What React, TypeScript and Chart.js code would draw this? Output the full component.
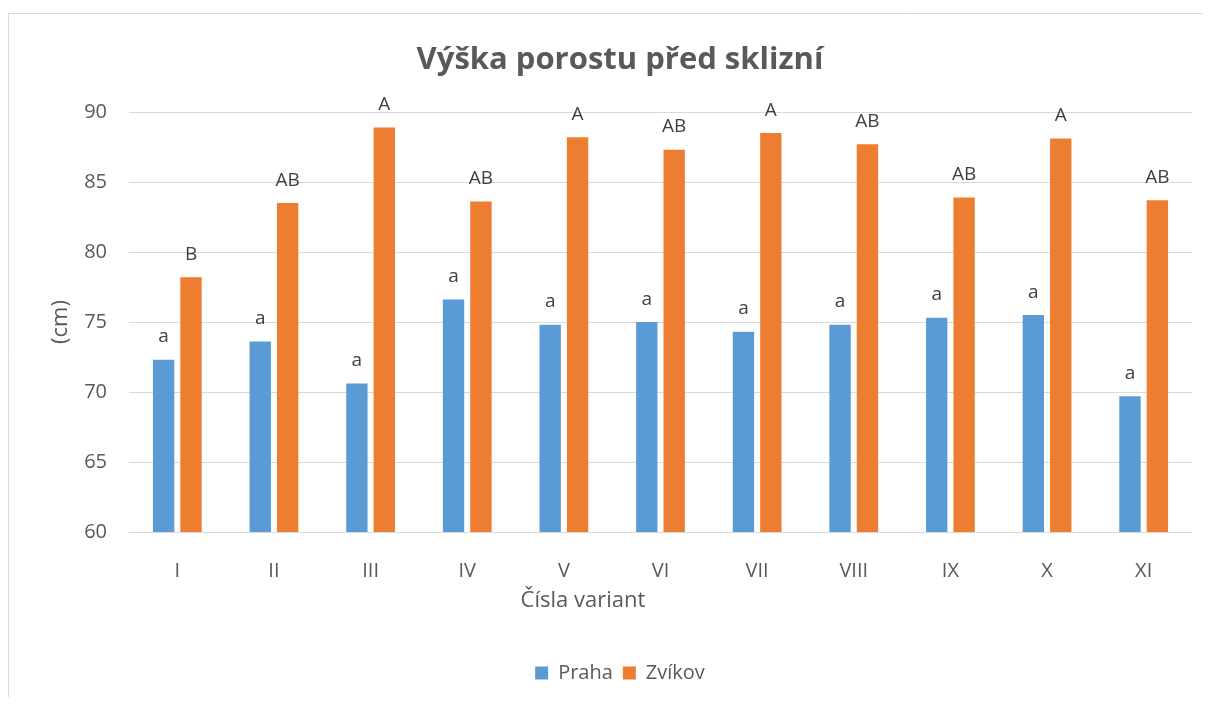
import React, { useEffect, useRef } from "react";
import { Chart, registerables } from "chart.js";

Chart.register(...registerables);

const chartTitle = "Výška porostu před sklizní";
const xAxisTitle = "Čísla variant";
const yAxisTitle = "(cm)";
const categories = ["I", "II", "III", "IV", "V", "VI", "VII", "VIII", "IX", "X", "XI"];
const prahaValues = [72.3, 73.6, 70.6, 76.6, 74.8, 75.0, 74.3, 74.8, 75.3, 75.5, 69.7];
const zvikovValues = [78.2, 83.5, 88.9, 83.6, 88.2, 87.3, 88.5, 87.7, 83.9, 88.1, 83.7];
const prahaLetters = ["a", "a", "a", "a", "a", "a", "a", "a", "a", "a", "a"];
const zvikovLetters = ["B", "AB", "A", "AB", "A", "AB", "A", "AB", "AB", "A", "AB"];
const yMin = 60;
const yMax = 90;
const yStep = 5;

const FONT = "'Open Sans', 'DejaVu Sans', sans-serif";
const TEXT = "#595959";
const GRID = "#d9d9d9";

const framePlugin = {
  id: "frame",
  beforeDraw(chart: any) {
    const { ctx, width, height } = chart;
    ctx.save();
    ctx.strokeStyle = GRID;
    ctx.lineWidth = 1;
    ctx.beginPath();
    ctx.moveTo(0.5, height);
    ctx.lineTo(0.5, 5.5);
    ctx.lineTo(width, 5.5);
    ctx.stroke();
    ctx.restore();
  },
};

const lettersPlugin = {
  id: "letters",
  afterDatasetsDraw(chart: any) {
    const { ctx } = chart;
    const sets = [prahaLetters, zvikovLetters];
    ctx.save();
    ctx.font = `19px ${FONT}`;
    ctx.fillStyle = "#404040";
    ctx.textAlign = "center";
    ctx.textBaseline = "alphabetic";
    chart.data.datasets.forEach((_: any, di: number) => {
      const meta = chart.getDatasetMeta(di);
      meta.data.forEach((bar: any, i: number) => {
        ctx.fillText(sets[di][i], bar.x, bar.y - 17.5);
      });
    });
    ctx.restore();
  },
};

const xTitlePlugin = {
  id: "xTitle",
  afterDraw(chart: any) {
    const { ctx, chartArea } = chart;
    ctx.save();
    ctx.font = `22px ${FONT}`;
    ctx.fillStyle = TEXT;
    ctx.textAlign = "center";
    ctx.textBaseline = "middle";
    ctx.fillText(xAxisTitle, chartArea.left + chartArea.width * 0.427, chartArea.bottom + 69);
    ctx.restore();
  },
};

export default function App() {
  const canvasRef = useRef<HTMLCanvasElement | null>(null);

  useEffect(() => {
    if (!canvasRef.current) return;
    const chart = new Chart(canvasRef.current, {
      type: "bar",
      data: {
        labels: categories,
        datasets: [
          {
            label: "Praha",
            data: prahaValues,
            backgroundColor: "#5B9BD5",
            categoryPercentage: 0.567,
            barPercentage: 0.78,
          },
          {
            label: "Zvíkov",
            data: zvikovValues,
            backgroundColor: "#ED7D31",
            categoryPercentage: 0.567,
            barPercentage: 0.78,
          },
        ],
      },
      options: {
        responsive: false,
        animation: false,
        devicePixelRatio: 1,
        layout: { padding: { left: 40, right: 11, top: 0, bottom: 4 } },
        plugins: {
          title: {
            display: true,
            text: chartTitle,
            color: TEXT,
            font: { family: FONT, size: 31, weight: "bold" },
            padding: { top: 33.4, bottom: 33.4 },
          },
          legend: {
            position: "bottom",
            labels: {
              color: TEXT,
              font: { family: FONT, size: 20 },
              boxWidth: 13,
              boxHeight: 13,
              padding: 10,
            },
          },
          tooltip: { enabled: false },
        },
        scales: {
          x: {
            grid: { display: false },
            border: { display: false },
            ticks: { color: TEXT, font: { family: FONT, size: 20 }, padding: 19 },
            afterFit(scale: any) {
              scale.height = 121;
            },
          },
          y: {
            min: yMin,
            max: yMax,
            ticks: { stepSize: yStep, color: TEXT, font: { family: FONT, size: 20 }, padding: 22 },
            grid: { color: GRID, lineWidth: 1, drawTicks: false },
            border: { display: false },
            title: {
              display: true,
              text: yAxisTitle,
              color: TEXT,
              font: { family: FONT, size: 22 },
              padding: { top: 0, bottom: 0 },
            },
            afterFit(scale: any) {
              scale.width = 81;
            },
          },
        },
      },
      plugins: [framePlugin, lettersPlugin, xTitlePlugin],
    });
    return () => chart.destroy();
  }, []);

  return (
    <div>
      <canvas ref={canvasRef} width={1195} height={689} style={{ display: "block" }} />
    </div>
  );
}
